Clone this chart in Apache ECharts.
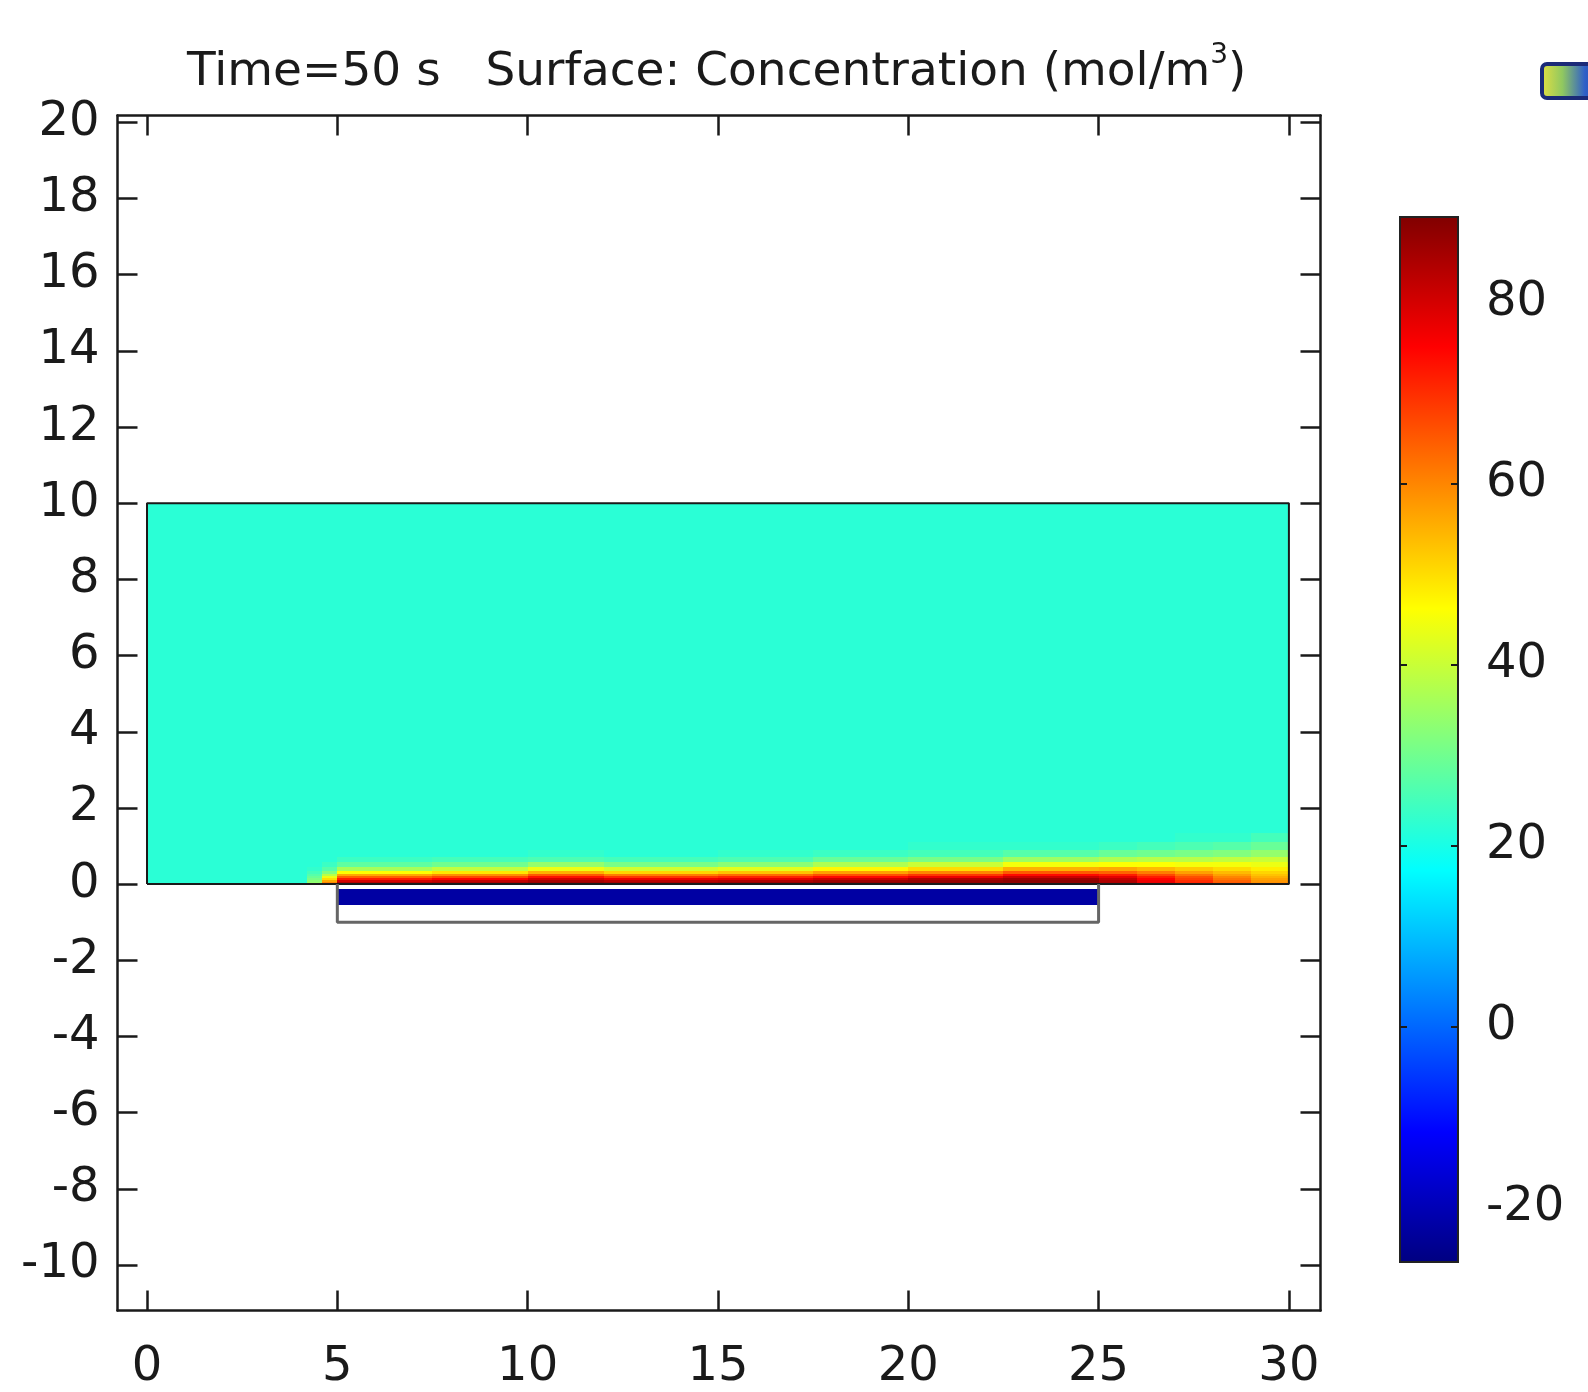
<!DOCTYPE html>
<html>
<head>
<meta charset="utf-8">
<title>Surface: Concentration</title>
<script src="https://cdn.jsdelivr.net/npm/echarts@6/dist/echarts.min.js"></script>
<style>
html, body { margin: 0; padding: 0; background: #fff; }
#chart { width: 1588px; height: 1392px; }
</style>
</head>
<body>
<div id="chart"></div>
<script>
// tick labels
var xTicks = [0, 5, 10, 15, 20, 25, 30];
var yTicks = [-10, -8, -6, -4, -2, 0, 2, 4, 6, 8, 10, 12, 14, 16, 18, 20];
var barLabels = [-20, 0, 20, 40, 60, 80];
var barMarks = [0, 20, 40, 60];
var concRange = [-26, 89.5];

// geometry (length units of the plot)
var fluidBox = [[0, 0], [30, 0], [30, 10], [0, 10], [0, 0]];
var stripBox = [[5, 0], [5, -1], [25, -1], [25, 0]];
var bulkConc = 22;
var bandX = [5, 25];
var bandY = [-0.55, -0.13];
var bandConc = -22;

// boundary layer over the wall: x intervals, y levels, concentration per column (wall -> up)
var layerX = [0, 4.2, 4.6, 5, 7.5, 10, 12, 15, 17.5, 20, 22.5, 25, 26, 27, 28, 29, 30];
var layerY = [0, 0.05, 0.1, 0.15, 0.2, 0.27, 0.35, 0.45, 0.57, 0.72, 0.9, 1.1, 1.35];
var layerC = [
    [22, 22, 22, 22, 22, 22, 22, 22, 22, 22, 22, 22],
    [34, 33, 31, 29, 27, 25, 23, 22, 22, 22, 22, 22],
    [60, 56, 50, 44, 38, 32, 27, 24, 22, 22, 22, 22],
    [84, 80, 72, 64, 56, 46, 36, 28, 24, 22, 22, 22],
    [85, 82, 75, 67, 59, 49, 39, 30, 25, 22, 22, 22],
    [87, 85, 80, 73, 65, 55, 44, 34, 26, 23, 22, 22],
    [86, 83, 77, 69, 61, 51, 41, 31, 25, 22, 22, 22],
    [87, 84, 78, 71, 63, 53, 43, 33, 26, 23, 22, 22],
    [88, 86, 81, 74, 66, 57, 47, 37, 29, 24, 22, 22],
    [88, 87, 84, 77, 69, 60, 50, 40, 31, 25, 23, 22],
    [88, 88, 86, 81, 74, 65, 55, 45, 35, 27, 23, 22],
    [85, 84, 82, 78, 72, 64, 56, 46, 37, 29, 24, 22],
    [78, 77, 75, 72, 67, 61, 54, 46, 38, 30, 25, 22],
    [71, 70, 68, 66, 62, 57, 52, 45, 38, 31, 26, 23],
    [65, 64, 62, 60, 57, 54, 50, 45, 39, 32, 27, 23],
    [59, 58, 57, 55, 53, 51, 48, 44, 40, 34, 29, 25]
];

var jet = ['#000080', '#0000ff', '#0080ff', '#00ffff', '#80ff80', '#ffff00', '#ff8000', '#ff0000', '#800000'];
var font = 'DejaVu Sans';
var ink = '#1a1a1a';

var cells = [[0, 30, 0, 10, bulkConc]];
for (var i = 0; i < layerC.length; i++) {
    for (var j = 0; j < layerC[i].length; j++) {
        cells.push([layerX[i], layerX[i + 1], layerY[j], layerY[j + 1], layerC[i][j]]);
    }
}
cells.push([bandX[0], bandX[1], bandY[0], bandY[1], bandConc]);

function cellItem(params, api) {
    var a = api.coord([api.value(0), api.value(3)]);
    var b = api.coord([api.value(1), api.value(2)]);
    var x0 = Math.round(a[0]), y0 = Math.round(a[1]);
    var x1 = Math.round(b[0]), y1 = Math.round(b[1]);
    return {
        type: 'rect',
        shape: { x: x0, y: y0, width: x1 - x0, height: y1 - y0 },
        style: { fill: api.visual('color') }
    };
}

function barItem(params, api) {
    var a = api.coord([api.value(0), api.value(3)]);
    var b = api.coord([api.value(1), api.value(2)]);
    var stops = jet.map(function (c, k) { return { offset: k / (jet.length - 1), color: c }; });
    return {
        type: 'rect',
        shape: { x: a[0], y: a[1], width: b[0] - a[0], height: b[1] - a[1] },
        style: {
            fill: new echarts.graphic.LinearGradient(0, 1, 0, 0, stops),
            stroke: '#222',
            lineWidth: 2
        }
    };
}

function frameX(pos, labels) {
    return {
        gridIndex: 0, type: 'value', min: -0.775, max: 30.83, position: pos,
        axisLine: { show: true, onZero: false, lineStyle: { color: ink, width: 2.5 } },
        axisTick: { show: true, inside: true, length: 20, customValues: xTicks, lineStyle: { color: ink, width: 2.5 } },
        axisLabel: { show: labels, customValues: xTicks, margin: 33, fontSize: 48, fontFamily: font, color: ink },
        splitLine: { show: false }
    };
}
function frameY(pos, labels) {
    return {
        gridIndex: 0, type: 'value', min: -11.195, max: 20.18, position: pos,
        axisLine: { show: true, onZero: false, lineStyle: { color: ink, width: 2.5 } },
        axisTick: { show: true, inside: true, length: 20, customValues: yTicks, lineStyle: { color: ink, width: 2.5 } },
        axisLabel: { show: labels, customValues: yTicks, margin: 18, fontSize: 48, fontFamily: font, color: ink },
        splitLine: { show: false }
    };
}
function barY(pos, labels) {
    return {
        gridIndex: 1, type: 'value', min: concRange[0], max: concRange[1], position: pos, z: 10,
        axisLine: { show: false, onZero: false },
        axisTick: { show: true, inside: true, length: 7, customValues: barMarks, lineStyle: { color: ink, width: 2 } },
        axisLabel: { show: labels, customValues: barLabels, margin: 28, fontSize: 48, fontFamily: font, color: ink },
        splitLine: { show: false }
    };
}

var chart = echarts.init(document.getElementById('chart'));
var option = {
    backgroundColor: '#fff',
    animation: false,
    title: {
        text: 'Time=50 s   Surface: Concentration (mol/m{sup|3})',
        left: 187,
        top: 42,
        padding: 0,
        textStyle: {
            fontFamily: font, fontSize: 47, fontWeight: 'normal', color: ink, lineHeight: 62,
            rich: { sup: { fontFamily: font, fontSize: 28, color: ink, verticalAlign: 'top', lineHeight: 30 } }
        }
    },
    grid: [
        { left: 117.5, top: 115.5, width: 1203, height: 1195 },
        { left: 1400, top: 217, width: 58, height: 1045 }
    ],
    xAxis: [
        frameX('bottom', true),
        frameX('top', false),
        { gridIndex: 1, type: 'value', min: 0, max: 1, show: false }
    ],
    yAxis: [
        frameY('left', true),
        frameY('right', false),
        barY('right', true),
        barY('left', false)
    ],
    visualMap: {
        show: false, type: 'continuous', seriesIndex: 0, dimension: 4,
        min: concRange[0], max: concRange[1], inRange: { color: jet }
    },
    series: [
        {
            type: 'custom', xAxisIndex: 0, yAxisIndex: 0, renderItem: cellItem,
            encode: { x: [0, 1], y: [2, 3] }, data: cells, silent: true
        },
        {
            type: 'custom', xAxisIndex: 2, yAxisIndex: 2, renderItem: barItem,
            encode: { x: [0, 1], y: [2, 3] }, data: [[0, 1, concRange[0], concRange[1]]], silent: true
        },
        {
            type: 'line', xAxisIndex: 0, yAxisIndex: 0, data: fluidBox, symbol: 'none', z: 5,
            lineStyle: { color: '#1a1a1a', width: 2 }, silent: true
        },
        {
            type: 'line', xAxisIndex: 0, yAxisIndex: 0, data: stripBox, symbol: 'none', z: 5,
            lineStyle: { color: '#666', width: 3 }, silent: true
        }
    ],
    graphic: [
        {
            type: 'rect', left: 1540, top: 62, silent: true,
            shape: { width: 60, height: 34, r: 5 },
            style: {
                fill: new echarts.graphic.LinearGradient(0, 0, 1, 0, [
                    { offset: 0, color: '#e8e040' }, { offset: 0.35, color: '#90c860' }, { offset: 0.7, color: '#3060c8' }, { offset: 1, color: '#2040a0' }
                ]),
                stroke: '#1b2a78', lineWidth: 4
            }
        }
    ]
};
chart.setOption(option);
</script>
</body>
</html>
